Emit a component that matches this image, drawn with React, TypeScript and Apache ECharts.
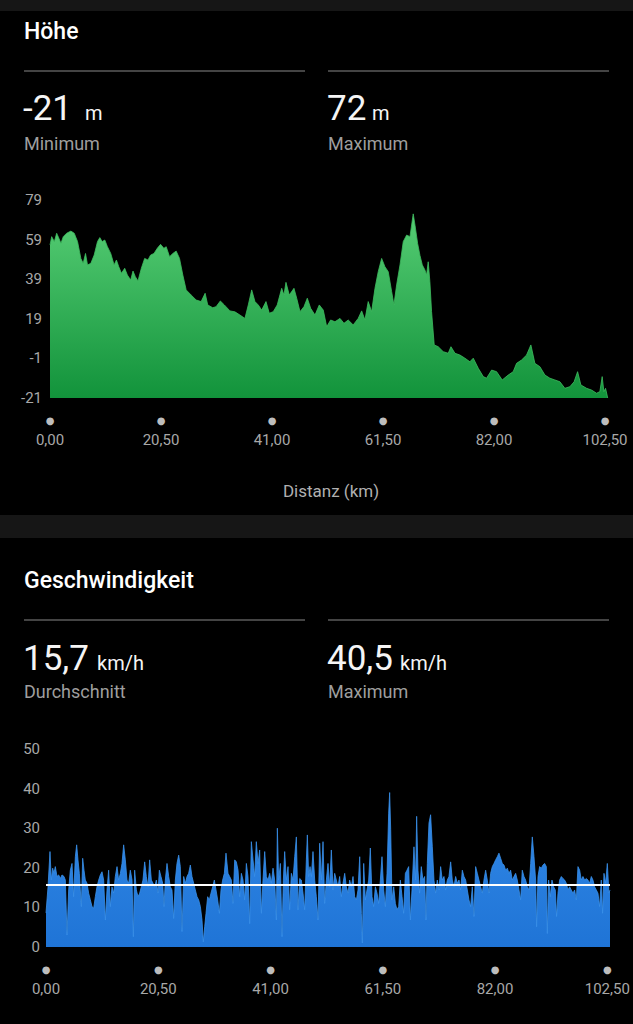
import React, { useEffect, useRef } from "react";
import * as echarts from "echarts";

// ---------- data ----------
const distTicks = [0, 20.5, 41, 61.5, 82, 102.5];
const elevTicks = [-21, -1, 19, 39, 59, 79];
const speedTicks = [0, 10, 20, 30, 40, 50];

const elevMinLabel = "-21";
const elevMaxLabel = "72";
const speedAvgLabel = "15,7";
const speedMaxLabel = "40,5";
const avgSpeed = 15.7;

const elevKm = [
  0, 0.31, 0.8, 1.23, 1.66, 2.02, 2.45, 3.07, 3.86, 4.48, 5.09, 5.7, 6.13, 6.56, 6.93, 7.54, 8.16, 8.77, 9.2, 9.63,
  10.12, 10.61, 11.22, 11.84, 12.27, 12.7, 13.19, 13.8, 14.29, 14.9, 15.33, 15.76, 16.25, 16.87, 17.48, 18.09, 18.58,
  19.2, 19.81, 20.42, 21.03, 21.46, 22.08, 22.69, 23.3, 23.92, 24.53, 25.15, 26.07, 26.99, 27.91, 28.65, 29.13, 30.05,
  30.67, 31.46, 32.2, 33.23, 34.16, 35.08, 36.0, 36.62, 37.25, 37.85, 38.46, 39.1, 39.89, 40.5, 41.23, 41.97, 42.79,
  43.21, 43.58, 44.19, 45.06, 45.56, 46.17, 46.9, 47.52, 48.14, 48.94, 49.73, 50.47, 51.1, 51.83, 52.63, 53.56, 54.29,
  55.08, 56.0, 56.92, 57.56, 58.17, 58.77, 59.4, 60.02, 60.62, 61.25, 61.86, 62.47, 63.1, 63.52, 64.02, 64.64, 65.24,
  65.87, 66.48, 67.08, 67.43, 67.9, 68.33, 68.76, 69.24, 69.55, 69.85, 70.16, 70.47, 70.96, 71.7, 72.62, 73.55, 74.05,
  74.79, 75.71, 76.63, 77.55, 78.17, 79.1, 80.02, 80.63, 81.56, 82.48, 83.52, 84.63, 85.55, 86.17, 87.1, 88.02, 88.81,
  89.55, 90.48, 91.4, 92.32, 93.25, 94.17, 95.09, 96.01, 96.8, 97.44, 98.04, 99.1, 100.02, 100.94, 101.55, 101.98,
  102.29, 102.6, 103,
];
const elevM = [
  56.3, 60.5, 58, 62.2, 59.6, 57.1, 60.5, 62.2, 63.3, 62.2, 58, 49.5, 47, 52, 46.2, 47, 51.2, 58, 60, 58,
  58.8, 55.4, 52, 46.2, 48.7, 45.3, 42, 44.5, 41.1, 38.6, 43.1, 40.3, 38.1, 44.5, 49.5, 48.7, 51.2,
  52, 54.6, 56.6, 54.6, 55.4, 50.4, 52, 53.2, 49.5, 41.1, 33.6, 31, 28.5, 27.7, 31.9, 26, 24.6,
  25.1, 28, 26, 23, 22.5, 20.9, 19.2, 26, 33.6, 27.7, 26, 23.4, 27.7, 21.8, 22.6, 26, 34.4,
  31, 37.4, 31, 34.4, 29.4, 22.6, 25.1, 29.4, 24.3, 20.9, 26, 23.4, 15, 18.4, 17.5, 19.2, 16.7,
  18.4, 15.9, 19.2, 23, 18.4, 27.7, 22.6, 34.4, 42.8, 49.5, 45.3, 42.8, 32.7, 26, 36.1, 46.2, 58,
  61.3, 60.5, 72, 66, 57, 51, 46.2, 43.7, 41.1, 47.8, 37.7, 22.6, 5.8, 4.9, 2.4, 1.6, 4.9,
  1.6, 0.7, -0.9, -2.7, -0.9, -6, -10.2, -11, -6.9, -7.7, -11.9, -9.4, -7.7, -3.5, -1.8, 0.7, 5.8,
  -3.5, -5.2, -9.4, -11, -11.9, -12.8, -16.1, -15.3, -12.8, -7.7, -14.4, -16.1, -17, -18.6, -17.8, -10.2,
  -17.8, -16.1, -21,
];

const speedKm = [
  0, 0.37, 0.73, 0.97, 1.22, 1.46, 1.7, 2.01, 2.31, 2.62, 2.92, 3.29, 3.53, 3.84, 4.14, 4.44, 4.75, 5.05, 5.36, 5.6,
  5.84, 6.09, 6.45, 6.7, 6.94, 7.18, 7.49, 7.79, 8.1, 8.4, 8.71, 9.01, 9.31, 9.62, 9.92, 10.23, 10.53, 10.84, 11.14,
  11.44, 11.75, 12.05, 12.36, 12.66, 12.97, 13.27, 13.58, 13.88, 14.18, 14.49, 14.79, 15.1, 15.4, 15.71, 15.95, 16.19,
  16.5, 16.8, 17.11, 17.41, 17.71, 18.02, 18.32, 18.63, 18.93, 19.24, 19.54, 19.85, 20.15, 20.45, 20.7, 21.0, 21.31,
  21.55, 21.79, 22.1, 22.4, 22.71, 23.01, 23.32, 23.62, 23.92, 24.23, 24.53, 24.84, 25.14, 25.45, 25.75, 26.05, 26.36,
  26.66, 26.97, 27.27, 27.58, 27.88, 28.19, 28.49, 28.73, 28.98, 29.22, 29.52, 29.83, 30.13, 30.44, 30.74, 31.05,
  31.35, 31.66, 31.96, 32.26, 32.57, 32.87,
  33.24, 33.54, 33.85, 34.15, 34.46, 34.76, 35.07, 35.37, 35.68, 35.98, 36.28, 36.59, 36.89, 37.2, 37.5, 37.81, 38.11,
  38.41, 38.72, 39.02, 39.33, 39.63, 39.94, 40.24, 40.55, 40.85, 41.15, 41.46, 41.76, 42.07, 42.25, 42.49, 42.8, 43.1,
  43.35, 43.59, 43.89, 44.2, 44.5, 44.81, 45.11, 45.42, 45.72, 46.02, 46.33, 46.63, 46.94, 47.24, 47.55, 47.73, 47.97,
  48.22, 48.46, 48.76, 49.07, 49.37, 49.68, 49.98, 50.29, 50.59, 50.89, 51.2, 51.5, 51.81, 52.11, 52.42, 52.72, 53.02,
  53.33, 53.63, 53.94, 54.24, 54.55, 54.85, 55.16, 55.46, 55.76, 56.07, 56.37, 56.68, 56.98, 57.29, 57.59, 57.77,
  58.02, 58.32, 58.62, 58.93, 59.23, 59.54, 59.84, 60.15, 60.45, 60.76, 61.06, 61.36, 61.67, 61.97, 62.28, 62.58,
  62.76, 62.95, 63.19, 63.5, 63.8, 64.1, 64.41, 64.71, 65.02, 65.32, 65.63, 65.93, 66.23, 66.54, 66.84,
  67.2, 67.5, 67.69, 67.93, 68.23, 68.54, 68.84, 69.15, 69.39, 69.64, 69.94, 70.24, 70.55, 70.85, 71.16, 71.46, 71.77,
  72.07, 72.37, 72.68, 72.98, 73.29, 73.59, 73.9, 74.2, 74.51, 74.81, 75.11, 75.42, 75.72, 76.03, 76.33, 76.64, 76.94,
  77.24, 77.55, 77.85, 78.16, 78.46, 78.77, 79.07, 79.38, 79.68, 79.98, 80.29, 80.59, 80.9, 81.2, 81.51, 81.81, 82.11,
  82.42, 82.72, 83.03, 83.33, 83.64, 83.94, 84.25, 84.55, 84.85, 85.16, 85.46, 85.77, 86.07, 86.38, 86.68, 86.98,
  87.29, 87.59, 87.9, 88.2, 88.51, 88.81, 89.12, 89.42, 89.6, 89.85, 90.15, 90.45, 90.76, 91.06, 91.37, 91.55, 91.79,
  92.1, 92.4, 92.71, 93.01, 93.25, 93.5, 93.8, 94.11, 94.41, 94.72, 95.02, 95.32, 95.63, 95.93, 96.24, 96.54, 96.85,
  97.15, 97.46, 97.76, 98.06, 98.37, 98.67, 98.98, 99.28, 99.59, 99.89, 100.19, 100.5, 100.8, 101.11, 101.41, 101.65,
  101.9, 102.2, 102.51, 102.81, 103,
];
const speedKmh = [
  8.6, 15.2, 24.1, 16.9, 19.9, 18.6, 20.3, 17.8, 18.2, 17.3, 18.2, 17.8, 16.9, 3.0, 14.4, 19.4, 21.1, 12.7, 22.8, 25.8,
  22, 18.6, 10.2, 22.4, 19.4, 16.9, 16.1, 13.6, 11.9, 10.2, 9.8, 12.7, 15.2, 16.9, 18.2, 19, 16.9, 6.8, 14.4,
  19.4, 10.2, 15.2, 13.6, 17.8, 20.3, 16.9, 18.6, 21.1, 25.8, 22, 16.9, 16.1, 19.4, 16.9, 2.6, 19.4,
  14.4, 12.7, 13.6, 15.2, 16.9, 21.5, 17.8, 15.2, 22, 16.9, 16.1, 15.2, 16.9, 13.6, 19.4, 17.8, 16.1,
  10.2, 16.9, 21.1, 17.8, 15.2, 14.4, 7.2, 16.9, 21.1, 23.2, 20.3, 3.9, 17.8, 16.1, 17.8, 18.6, 20.7,
  17.8, 16.1, 14.4, 12.7, 11.9, 10.2, 6.8, 1.3, 5.1, 8.5, 12.7, 11.9, 13.6, 15.2, 16.9, 14.4,
  11.9, 8.5, 14.4, 16.9, 18.6, 23.7,
  18.6, 17.8, 16.9, 11, 22, 21.5, 19.4, 12.7, 18.6, 16.9, 11.9, 21.1, 17.8, 5.9, 26.6, 22, 17.8,
  26.6, 21.1, 24.5, 8.5, 16.9, 24.1, 17.8, 16.9, 18.6, 16.1, 19.9, 16.9, 6.8, 30, 16.9, 21.1, 2.6,
  16.9, 24.1, 16.9, 20.3, 9.4, 18.6, 16.9, 22.8, 27.8, 9.4, 17.3, 16.9, 13.6, 9.4, 22, 28.3, 17.8,
  20.3, 17.8, 24.1, 16.9, 12.7, 6.8, 26.2, 16.9, 26.6, 11, 16.9, 21.1, 15.2, 24.5, 14.4, 18.6, 16.9,
  15.2, 17.8, 12.7, 16.1, 18.6, 15.2, 13.6, 16.9, 15.2, 17.8, 12.7, 11.9, 14.4, 22.8, 8.5, 1.0,
  21.1, 11.9, 14.4, 16.9, 25, 12.7, 10.2, 15.2, 13.6, 11, 16.9, 22.8, 14.4, 10.2, 18.6, 33.8,
  39, 29.6, 11.9, 15.2, 11, 9.4, 10.2, 16.9, 12.7, 8.5, 18.6, 19.4, 20.3, 6.8, 14.4,
  25.3, 16.9, 33, 19.4, 13.6, 20.3, 16.9, 17.8, 6.8, 21.1, 31.3, 33.4, 25.3, 16.9, 13.6, 16.9, 14.4,
  20.3, 16.9, 17.8, 14.4, 16.9, 17.8, 21.5, 16.9, 15.2, 17.8, 16.1, 16.9, 14.4, 19.4, 17.8, 16.9, 14.4,
  11.9, 10.2, 15.2, 7.7, 20.3, 18.6, 16.9, 15.2, 13.6, 16.9, 19.4, 16.9, 13.6, 18.6, 20.3, 21.1, 22,
  22.8, 23.7, 22.4, 21.1, 20.7, 19.4, 19.9, 18.6, 19.4, 16.9, 17.8, 18.6, 16.9, 14.4, 11.9, 19.4,
  17.8, 16.9, 15.2, 14.4, 21.1, 27.8, 22.8, 16.9, 5.1, 17.8, 20.3, 19.9, 20.7, 21.1, 20.3, 3.4, 16.9,
  12.7, 16.9, 15.2, 14.4, 7.7, 13.6, 16.9, 17.8, 17.3, 16.9, 16.1, 14.4, 15.2, 14.4, 13.6, 14.4, 11.9,
  20.3, 19.4, 16.9, 17.8, 16.9, 17.3, 16.9, 16.1, 17.8, 16.9, 15.2, 14.4, 13.6, 10.2, 16.9, 8.5,
  18.6, 16.1, 21.1, 13.6, 14.4,
];

// ---------- helpers ----------
const FONT = "Roboto, 'Noto Sans', sans-serif";
const fmtKm = (v: number) => v.toFixed(2).replace(".", ",");

function xAxisFor(gridIndex: number) {
  return {
    type: "value",
    gridIndex,
    min: 0,
    max: 103,
    axisLine: { show: false },
    axisTick: { show: false },
    splitLine: { show: false },
    axisLabel: {
      customValues: distTicks,
      margin: 13,
      formatter: (v: number) => `{d|●}\n{v|${fmtKm(v)}}`,
      rich: {
        d: { fontSize: 10, lineHeight: 19, color: "#bdbdbd", fontFamily: "DejaVu Sans" },
        v: { fontSize: 15, lineHeight: 19, color: "#a8a8a8", fontFamily: FONT },
      },
    },
  };
}

function yAxisFor(gridIndex: number, min: number, max: number, ticks: number[], margin: number) {
  return {
    type: "value",
    gridIndex,
    min,
    max,
    axisLine: { show: false },
    axisTick: { show: false },
    splitLine: { show: false },
    axisLabel: {
      customValues: ticks,
      margin,
      color: "#a8a8a8",
      fontSize: 15,
      fontFamily: FONT,
    },
  };
}

function txt(x: number, y: number, text: string, size: number, color: string, weight: any = "normal", align = "left") {
  return {
    type: "text",
    x,
    y,
    style: {
      text,
      fill: color,
      fontSize: size,
      fontFamily: FONT,
      fontWeight: weight,
      align,
      verticalAlign: "middle",
    },
  };
}

export default function App() {
  const ref = useRef<HTMLDivElement>(null);

  useEffect(() => {
    document.body.style.margin = "0";
    document.body.style.background = "#000";
    if (!ref.current) return;
    const chart = echarts.init(ref.current, null, { renderer: "svg" });

    const elevData = elevKm.map((k, i) => [k, elevM[i]]);
    const speedData = speedKm.map((k, i) => [k, speedKmh[i]]);

    chart.setOption({
      animation: false,
      backgroundColor: "#000",
      grid: [
        { left: 50, top: 200, width: 557.7, height: 198 },
        { left: 46, top: 749, width: 564, height: 198 },
      ],
      xAxis: [xAxisFor(0), xAxisFor(1)],
      yAxis: [yAxisFor(0, -21, 79, elevTicks, 8), yAxisFor(1, 0, 50, speedTicks, 6)],
      series: [
        {
          type: "line",
          xAxisIndex: 0,
          yAxisIndex: 0,
          data: elevData,
          showSymbol: false,
          symbol: "none",
          lineStyle: { width: 0.8, color: "#3fbd60" },
          areaStyle: {
            origin: "start",
            opacity: 1,
            color: new echarts.graphic.LinearGradient(0, 0, 0, 1, [
              { offset: 0, color: "#56cd74" },
              { offset: 1, color: "#12933b" },
            ]),
          },
        },
        {
          type: "line",
          xAxisIndex: 1,
          yAxisIndex: 1,
          data: speedData,
          showSymbol: false,
          symbol: "none",
          lineStyle: { width: 0.8, color: "#3a90ea" },
          areaStyle: {
            origin: "start",
            opacity: 1,
            color: new echarts.graphic.LinearGradient(0, 0, 0, 1, [
              { offset: 0, color: "#338ae8" },
              { offset: 1, color: "#1f74d6" },
            ]),
          },
          markLine: {
            silent: true,
            symbol: "none",
            label: { show: false },
            lineStyle: { color: "#ffffff", width: 2, type: "solid" },
            data: [{ yAxis: avgSpeed }],
          },
        },
      ],
      graphic: [
        { type: "rect", shape: { x: 0, y: 0, width: 633, height: 11 }, style: { fill: "#161616" } },
        { type: "rect", shape: { x: 0, y: 515, width: 633, height: 23 }, style: { fill: "#161616" } },
        { type: "rect", shape: { x: 24, y: 70, width: 281, height: 2 }, style: { fill: "#444444" } },
        { type: "rect", shape: { x: 328, y: 70, width: 281, height: 2 }, style: { fill: "#444444" } },
        { type: "rect", shape: { x: 24, y: 619, width: 281, height: 2 }, style: { fill: "#444444" } },
        { type: "rect", shape: { x: 328, y: 619, width: 281, height: 2 }, style: { fill: "#444444" } },

        txt(24, 31, "Höhe", 23, "#ffffff", 500),
        txt(23, 108, elevMinLabel, 35, "#f5f5f5"),
        txt(85, 113, "m", 20, "#f5f5f5"),
        txt(24, 143, "Minimum", 18, "#9e9e9e"),
        txt(327, 108, elevMaxLabel, 35, "#f5f5f5"),
        txt(372, 113, "m", 20, "#f5f5f5"),
        txt(328, 143, "Maximum", 18, "#9e9e9e"),
        txt(331, 491, "Distanz (km)", 17, "#b0b0b0", "normal", "center"),

        txt(24, 580, "Geschwindigkeit", 23, "#ffffff", 500),
        txt(23, 658, speedAvgLabel, 35, "#f5f5f5"),
        txt(97, 663, "km/h", 20, "#f5f5f5"),
        txt(24, 691, "Durchschnitt", 18, "#9e9e9e"),
        txt(327, 658, speedMaxLabel, 35, "#f5f5f5"),
        txt(400, 663, "km/h", 20, "#f5f5f5"),
        txt(328, 691, "Maximum", 18, "#9e9e9e"),
      ],
    });

    return () => chart.dispose();
  }, []);

  return (
    <div
      ref={ref}
      style={{ position: "absolute", left: 0, top: 0, width: 633, height: 1024, background: "#000" }}
    />
  );
}
